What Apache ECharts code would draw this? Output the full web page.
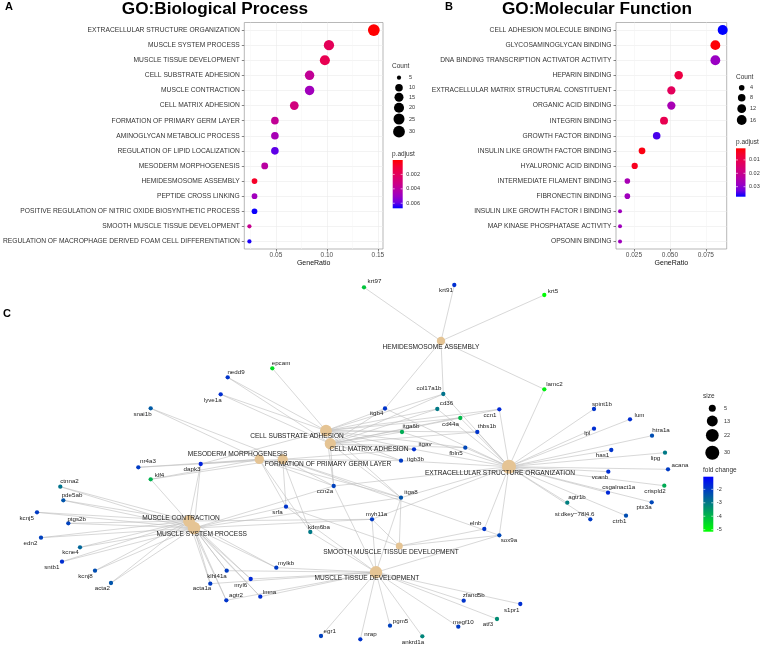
<!DOCTYPE html>
<html><head><meta charset="utf-8">
<script src="https://cdn.jsdelivr.net/npm/echarts@6/dist/echarts.min.js"></script>
<style>html,body{margin:0;padding:0;background:#fff}#c{width:760px;height:646px}</style>
</head><body><div id="c"></div>
<script>
// ---------- Panel A : GO Biological Process ----------
const bpTerms = ['EXTRACELLULAR STRUCTURE ORGANIZATION','MUSCLE SYSTEM PROCESS','MUSCLE TISSUE DEVELOPMENT','CELL SUBSTRATE ADHESION','MUSCLE CONTRACTION','CELL MATRIX ADHESION','FORMATION OF PRIMARY GERM LAYER','AMINOGLYCAN METABOLIC PROCESS','REGULATION OF LIPID LOCALIZATION','MESODERM MORPHOGENESIS','HEMIDESMOSOME ASSEMBLY','PEPTIDE CROSS LINKING','POSITIVE REGULATION OF NITRIC OXIDE BIOSYNTHETIC PROCESS','SMOOTH MUSCLE TISSUE DEVELOPMENT','REGULATION OF MACROPHAGE DERIVED FOAM CELL DIFFERENTIATION'];
const bpRatio = [0.146,0.102,0.098,0.083,0.083,0.068,0.049,0.049,0.049,0.039,0.029,0.029,0.029,0.024,0.024];
const bpCount = [30,21,20,17,17,14,10,10,10,8,6,6,6,5,5];
const bpPadj = [0.00002,0.0019,0.0017,0.0037,0.0048,0.0030,0.0037,0.0046,0.0060,0.0040,0.0007,0.0048,0.0066,0.0035,0.0065];
const bpRatioTicks = [0.05,0.10,0.15];
const bpCountTicks = [5,10,15,20,25,30];
const bpPadjTicks = [0.002,0.004,0.006];

// ---------- Panel B : GO Molecular Function ----------
const mfTerms = ['CELL ADHESION MOLECULE BINDING','GLYCOSAMINOGLYCAN BINDING','DNA BINDING TRANSCRIPTION ACTIVATOR ACTIVITY','HEPARIN BINDING','EXTRACELLULAR MATRIX STRUCTURAL CONSTITUENT','ORGANIC ACID BINDING','INTEGRIN BINDING','GROWTH FACTOR BINDING','INSULIN LIKE GROWTH FACTOR BINDING','HYALURONIC ACID BINDING','INTERMEDIATE FILAMENT BINDING','FIBRONECTIN BINDING','INSULIN LIKE GROWTH FACTOR I BINDING','MAP KINASE PHOSPHATASE ACTIVITY','OPSONIN BINDING'];
const mfRatio = [0.0867,0.0816,0.0816,0.0561,0.0510,0.0510,0.0459,0.0408,0.0306,0.0255,0.0204,0.0204,0.0153,0.0153,0.0153];
const mfCount = [17,16,16,11,10,10,9,8,6,5,4,4,3,3,3];
const mfPadj = [0.0375,0.0020,0.0285,0.0085,0.0120,0.0260,0.0104,0.0346,0.0030,0.0042,0.0260,0.0274,0.0274,0.0274,0.0274];
const mfRatioTicks = [0.025,0.050,0.075];
const mfCountTicks = [4,8,12,16];
const mfPadjTicks = [0.01,0.02,0.03];

// ---------- Panel C : gene-concept network ----------
const netTerms = ['HEMIDESMOSOME ASSEMBLY','CELL SUBSTRATE ADHESION','CELL MATRIX ADHESION','MESODERM MORPHOGENESIS','FORMATION OF PRIMARY GERM LAYER','EXTRACELLULAR STRUCTURE ORGANIZATION','MUSCLE CONTRACTION','MUSCLE SYSTEM PROCESS','SMOOTH MUSCLE TISSUE DEVELOPMENT','MUSCLE TISSUE DEVELOPMENT'];
const netTermX = [441,326,330.3,259.3,282.7,509,189,194,399.3,376];
const netTermY = [341,430.7,443.7,459.3,459.3,466.7,521,528,546,572.3];
const netTermCount = [6,17,14,8,10,30,17,21,5,20];

const geneNames = ['krt97','krt91','krt5','lamc2','epcam','nedd9','lyve1a','snai1b','nr4a3','dapk3','klf4','ctnna2','pde5ab','kcnj5','ptgs2b','edn2','kcne4','sntb1','kcnj8','acta2','klhl41a','acta1a','myl6','agtr2','lmna','mylkb','srfa','ccn2a','kdm6ba','myh11a','egr1','nrap','pgm5','ankrd1a','megf10','atf3','zfand5b','s1pr1','elnb','sox9a','itga8','vcanb','acana','csgalnact1a','crispld2','agtr1b','ptx3a','si:dkey\u221278l4.6','ctrb1','col17a1b','cd36','cd44a','ccn1','thbs1b','itgb4','itga6b','itgav','fbln5','itgb3b','spint1b','lum','lpl','htra1a','has1','lipg'];
const geneX = [364,454.3,544.3,544.3,272.3,227.7,220.7,150.7,138.3,200.7,150.7,60.3,63.3,37,68.3,41,80,62,95,111,226.7,210.3,250.7,226.3,260.3,276.3,286,333.7,310.3,372,321,360.3,390,422.3,458.3,497,463.7,520.3,484.3,499.3,401,608.3,668,608,664.3,567.3,651.7,590.3,626,443.3,437.3,460.3,499.3,477.3,385,402,414,465.3,401,594,630,594,652,611.3,665];
const geneY = [287.3,285,295,389.3,368.3,377.3,394.3,408.3,467.3,464,479.3,486.7,500.3,512.3,523.3,537.7,547.3,561.7,570.7,583,570.7,583.7,579,600.3,596.7,567.7,506.7,486,532,519.3,636,639.3,625.7,636.3,626.7,619,600.7,604,529,535.3,497.7,471.7,469.3,492.7,485.7,502.7,502.3,519.3,515.7,394,409,418,409.3,432,408.5,432,449.3,447.7,460.7,409,419.3,428.7,435.7,450,452.7];
const geneFC = [-4.2,-1.8,-5.1,-4.9,-4.6,-1.9,-1.8,-2.5,-2.0,-1.6,-3.9,-2.9,-2.4,-2.0,-2.1,-2.1,-2.7,-1.8,-2.3,-2.4,-2.0,-2.0,-1.7,-1.9,-1.8,-2.0,-1.9,-2.1,-3.0,-2.0,-2.1,-1.9,-2.1,-3.2,-2.0,-3.3,-1.9,-1.8,-1.9,-2.2,-2.4,-1.8,-2.0,-1.7,-3.8,-3.1,-2.2,-2.0,-2.3,-2.9,-3.0,-4.0,-1.7,-1.9,-1.9,-3.8,-1.8,-2.2,-2.0,-1.9,-1.8,-1.8,-2.3,-1.9,-3.0];
const netSizeTicks = [5,13,22,30];
const foldTicks = [-2,-3,-4,-5];

const genesHemi = ['krt97','krt91','krt5','lamc2','col17a1b','itgb4'];
const genesCSA = ['epcam','nedd9','lyve1a','itgb4','itga6b','itgav','itgb3b','itga8','cd44a','thbs1b','fbln5','ccn1','cd36','ccn2a','col17a1b','dapk3'];
const genesCMA = ['lyve1a','itgb4','itga6b','itgav','itgb3b','itga8','cd44a','thbs1b','fbln5','ccn1','cd36','ccn2a','nedd9','col17a1b'];
const genesMeso = ['snai1b','klf4','nr4a3','srfa','kdm6ba','itga8','ccn2a','dapk3'];
const genesFPGL = ['snai1b','klf4','nr4a3','srfa','kdm6ba','itgav','itgb3b','itga8','ccn2a','sox9a'];
const genesESO = ['col17a1b','cd36','cd44a','ccn1','thbs1b','fbln5','itgb4','itga6b','itgav','itgb3b','itga8','spint1b','lum','lpl','htra1a','has1','lipg','acana','vcanb','csgalnact1a','crispld2','agtr1b','ptx3a','si:dkey\u221278l4.6','ctrb1','elnb','sox9a','lamc2','ccn2a','myh11a'];
const genesMC = ['ctnna2','pde5ab','kcnj5','ptgs2b','edn2','kcne4','sntb1','kcnj8','acta2','klhl41a','acta1a','myl6','mylkb','myh11a','dapk3','agtr2','lmna'];
const genesMSP = ['ctnna2','pde5ab','kcnj5','ptgs2b','edn2','kcne4','sntb1','kcnj8','acta2','klhl41a','acta1a','myl6','agtr2','lmna','mylkb','srfa','myh11a','klf4','dapk3','ccn2a','itga8'];
const genesSMTD = ['itga8','myh11a','srfa','elnb','sox9a'];
const genesMTD = ['klhl41a','acta1a','myl6','agtr2','lmna','mylkb','myh11a','srfa','kdm6ba','egr1','nrap','pgm5','ankrd1a','megf10','atf3','zfand5b','s1pr1','sox9a','ccn2a','itga8'];
const termGenes = [genesHemi,genesCSA,genesCMA,genesMeso,genesFPGL,genesESO,genesMC,genesMSP,genesSMTD,genesMTD];

// ---------- layout / style (not data) ----------
const FONT = '"Liberation Sans", Arial, sans-serif';
const TXT = '#333333';
const padjPalette = ['#FF0000','#F40030','#E80050','#DA006D','#CA0088','#B400A8','#9A00C3','#7000E2','#0000FF'];
const foldPalette = ['#00FF00','#0000FF'];
const TAN = '#E5C494';
const termLabelOff = [[-10,6],[-29,5.3],[38.7,5.3],[-21.8,-5.3],[45.3,5],[-9,6.6],[-8,-3.3],[7.7,6],[-8.3,5.7],[-9,6]];
const geneLabelOff = [[10.5,-5.6],[-8.3,5.7],[8.7,-3.3],[10.2,-5],[8.7,-5],[8.3,-5],[-8,5.7],[-8.2,6],[9.7,-5.6],[-8.7,5],[8.8,-4.3],[9.2,-5],[8.7,-4.6],[-10.3,6],[8.4,-4.3],[-10.5,5.6],[-9.5,5.4],[-10.2,6],[-9.5,6],[-8.7,5.7],[-9.7,6],[-8.3,5],[-10,6],[9.7,-4.6],[9.2,-4.7],[9.7,-4.7],[-8.5,5.3],[-8.7,5.7],[8.7,-4.3],[4.5,-5.3],[8.7,-5],[10.2,-5],[10.5,-4.7],[-9.3,6],[5,-4.7],[-9,5.3],[10,-5.7],[-8.6,6],[-8.8,-5.7],[9.7,5.4],[10,-5],[-8.3,5.6],[12,-4.3],[10.7,-5.4],[-9.3,6],[9.7,-5.4],[-7.7,5.4],[-15.8,-5.3],[-6.5,5.3],[-14.3,-5.3],[9.2,-5.3],[-9.8,6],[-9.3,6],[9.7,-5.3],[-8.3,4.8],[9,-5.3],[11,-5.3],[-9.3,6],[14.5,-1.7],[8,-5],[9.5,-4.3],[-6.7,4.6],[9,-5],[-8.8,5.3],[-9.5,5.6]];

const sizeA = c => 4.2 + 7.6*Math.sqrt((c-5)/25);
const sizeB = c => 4 + 6*Math.sqrt((c-3)/14);
const sizeC = c => 7 + 7*Math.sqrt((c-5)/25);
const padjRangeA = [0, 0.0067];
const padjRangeB = [0.0013, 0.0375];
const foldRange = [-5.15, -1.06];
const foldColor = v => echarts.color.lerp((v - foldRange[0])/(foldRange[1]-foldRange[0]), foldPalette);

function dotAxes(gi, terms, xmin, xmax, ticks, fmt, extra) {
  const x = Object.assign({
    type:'value', gridIndex:gi, min:xmin, max:xmax,
    axisLine:{show:false},
    axisTick:{show:true, length:2.5, lineStyle:{color:'#333',width:0.6}, customValues:ticks},
    axisLabel:{fontSize:6.5, color:'#4D4D4D', margin:3, fontFamily:FONT, customValues:ticks, formatter:fmt},
    splitLine:{show:true, lineStyle:{color:'#EBEBEB', width:0.6}},
    name:'GeneRatio', nameLocation:'middle', nameGap:10, nameTextStyle:{fontSize:7, color:'#111', fontFamily:FONT}
  }, extra);
  const y = {
    type:'category', gridIndex:gi, data:terms, inverse:true,
    axisLine:{show:false},
    axisTick:{show:true, alignWithLabel:true, length:2.5, lineStyle:{color:'#333',width:0.6}},
    axisLabel:{fontSize:6.7, color:TXT, margin:4.5, fontFamily:FONT, interval:0},
    splitLine:{show:true, alignWithLabel:true, lineStyle:{color:'#EBEBEB', width:0.6}}
  };
  return [x, y];
}
const [xa, ya] = dotAxes(0, bpTerms, 0.019, 0.155, bpRatioTicks, v => v.toFixed(2),
  {splitNumber:3, minorTick:{show:false, splitNumber:2}, minorSplitLine:{show:true, lineStyle:{color:'#F4F4F4', width:0.5}}});
const [xb, yb] = dotAxes(1, mfTerms, 0.0125, 0.0895, mfRatioTicks, v => v.toFixed(3),
  {interval:0.0125});
xb.splitLine.lineStyle.color = ['#F4F4F4','#EBEBEB'];

// network nodes & links
const nodes = [];
netTerms.forEach((t,i) => nodes.push({
  name:t, value:[netTermX[i], netTermY[i]], symbolSize:sizeC(netTermCount[i]),
  itemStyle:{color:TAN},
  label:{offset:termLabelOff[i], fontSize:6.6}
}));
geneNames.forEach((g,i) => nodes.push({
  name:g, value:[geneX[i], geneY[i]], symbolSize:4.3,
  itemStyle:{color:foldColor(geneFC[i])},
  label:{offset:geneLabelOff[i], fontSize:6.2}
}));
const links = [];
termGenes.forEach((gs,i) => gs.forEach(g => links.push({source:netTerms[i], target:g})));

// legends (graphic)
const G = [];
function txt(x,y,s,size,opt){ G.push({type:'text', silent:true, z:10, style:Object.assign({x:x,y:y,text:s,font:(opt&&opt.bold?'bold ':'')+size+'px '+FONT,fill:(opt&&opt.fill)||TXT,align:(opt&&opt.align)||'left',verticalAlign:'middle'})}); }
function circ(x,y,d){ G.push({type:'circle', silent:true, z:10, shape:{cx:x,cy:y,r:d/2}, style:{fill:'#000'}}); }
function bar(x,y,w,h,pal,ticks,range,reverse){
  const stops = pal.map((c,i)=>({offset: reverse ? 1 - i/(pal.length-1) : i/(pal.length-1), color:c}));
  G.push({type:'rect', silent:true, z:10, shape:{x:x,y:y,width:w,height:h}, style:{fill:new echarts.graphic.LinearGradient(0,0,0,1,stops)}});
  ticks.forEach(v => {
    const f = (v - range[0])/(range[1]-range[0]);
    const yy = reverse ? y + (1-f)*h : y + f*h;
    G.push({type:'line', silent:true, z:11, shape:{x1:x,y1:yy,x2:x+2,y2:yy}, style:{stroke:'#fff',lineWidth:0.6}});
    G.push({type:'line', silent:true, z:11, shape:{x1:x+w-2,y1:yy,x2:x+w,y2:yy}, style:{stroke:'#fff',lineWidth:0.6}});
    txt(x+w+3.5, yy, String(v), 5.5);
  });
}
// titles and panel letters
txt(5,7,'A',11,{bold:true,fill:'#000'});
txt(445,7,'B',11,{bold:true,fill:'#000'});
txt(3,314,'C',11,{bold:true,fill:'#000'});
txt(215,9,'GO:Biological Process',17.2,{bold:true,fill:'#000',align:'center'});
txt(597,9,'GO:Molecular Function',17.2,{bold:true,fill:'#000',align:'center'});
// A legends
txt(392,66.5,'Count',6.5);
[77.7,87.7,97.3,107.7,119,131.7].forEach((yy,i)=>{ circ(399,yy,sizeA(bpCountTicks[i])); txt(409,yy,String(bpCountTicks[i]),5.5); });
txt(392,154,'p.adjust',6.5);
bar(392.7,160,10,48.3,padjPalette,bpPadjTicks,padjRangeA,false);
// B legends
txt(736,77.3,'Count',6.5);
[87.7,97.7,108.7,120].forEach((yy,i)=>{ circ(741.7,yy,sizeB(mfCountTicks[i])); txt(750,yy,String(mfCountTicks[i]),5.5); });
txt(736,142.7,'p.adjust',6.5);
bar(736,148.3,9.5,48.4,padjPalette,mfPadjTicks,padjRangeB,false);
// C legends
txt(703,396.7,'size',6.5);
[408.3,421,435.3,452.7].forEach((yy,i)=>{ circ(712.3,yy,sizeC(netSizeTicks[i])); txt(724,yy,String(netSizeTicks[i]),5.5); });
txt(703,470,'fold change',6.5);
bar(703.3,476.7,10,55,foldPalette,foldTicks,foldRange,true);

const option = {
  animation:false,
  backgroundColor:'#fff',
  textStyle:{fontFamily:FONT},
  grid:[
    {left:243, top:22.5, width:140, height:226.5, show:true, borderColor:'#9A9A9A', borderWidth:0.7, backgroundColor:'#fff'},
    {left:616, top:22.5, width:110.7, height:226.5, show:true, borderColor:'#9A9A9A', borderWidth:0.7, backgroundColor:'#fff'},
    {left:0, top:280, width:760, height:366, show:false}
  ],
  xAxis:[xa, xb, {type:'value', gridIndex:2, min:0, max:760, show:false}],
  yAxis:[ya, yb, {type:'value', gridIndex:2, min:280, max:646, inverse:true, show:false}],
  visualMap:[
    {type:'continuous', show:false, seriesIndex:0, dimension:2, min:padjRangeA[0], max:padjRangeA[1], inRange:{color:padjPalette}},
    {type:'continuous', show:false, seriesIndex:1, dimension:2, min:padjRangeB[0], max:padjRangeB[1], inRange:{color:padjPalette}}
  ],
  series:[
    {type:'scatter', xAxisIndex:0, yAxisIndex:0, silent:true,
     data: bpTerms.map((t,i)=>[bpRatio[i], t, bpPadj[i], bpCount[i]]),
     symbolSize: v => sizeA(v[3]), itemStyle:{opacity:1}},
    {type:'scatter', xAxisIndex:1, yAxisIndex:1, silent:true,
     data: mfTerms.map((t,i)=>[mfRatio[i], t, mfPadj[i], mfCount[i]]),
     symbolSize: v => sizeB(v[3]), itemStyle:{opacity:1}},
    {type:'graph', coordinateSystem:'cartesian2d', xAxisIndex:2, yAxisIndex:2, layout:'none', silent:true,
     data:nodes, links:links, edgeSymbol:['none','none'],
     lineStyle:{color:'#BEBEBE', width:0.6, opacity:1, curveness:0},
     label:{show:true, position:'inside', align:'center', verticalAlign:'middle', color:'#1a1a1a', fontFamily:FONT},
     emphasis:{disabled:true}}
  ],
  graphic:G
};
const chart = echarts.init(document.getElementById('c'));
chart.setOption(option);
</script></body></html>
